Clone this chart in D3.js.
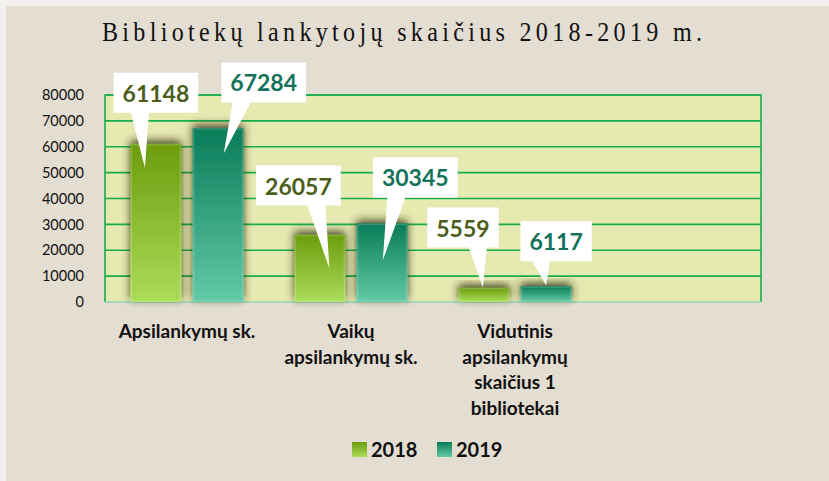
<!DOCTYPE html>
<html>
<head>
<meta charset="utf-8">
<script src="https://cdn.jsdelivr.net/npm/d3@7"></script>
<style>
  html, body { margin: 0; padding: 0; background: #f3f1ee; }
  svg { display: block; }
</style>
</head>
<body>
<svg id="chart" width="829" height="481"></svg>
<script>
// ---- data ----
const title = "Bibliotekų lankytojų skaičius 2018-2019 m.";
const categories = ["Apsilankymų sk.", "Vaikų\napsilankymų sk.", "Vidutinis\napsilankymų\nskaičius 1\nbibliotekai", ""];
const seriesNames = ["2018", "2019"];
const values2018 = [61148, 26057, 5559];
const values2019 = [67284, 30345, 6117];
const yTicks = [0, 10000, 20000, 30000, 40000, 50000, 60000, 70000, 80000];

// ---- callout placement (styling only) ----
// tipDx: tip x from bar centre; tipDy: tip depth below bar top;
// boxDx: box centre from tip; boxUp: box bottom above tip; baseDx: pointer base from box centre
const calloutLayout = [
  [ {tipDx:-11, tipDy:24, boxDx:11, boxUp:55, baseDx:-16},
    {tipDx:9.5, tipDy:34, boxDx:-31, boxUp:63, baseDx:18},
    {tipDx:-1, tipDy:0, boxDx:-20, boxUp:40, baseDx:15} ],
  [ {tipDx:5.6, tipDy:25.5, boxDx:40, boxUp:51, baseDx:-22},
    {tipDx:0.7, tipDy:37, boxDx:32.5, boxUp:63, baseDx:-19},
    {tipDx:0, tipDy:-1, boxDx:10, boxUp:24, baseDx:-15} ]
];

const svg = d3.select("#chart");
const W = 829, H = 481;

// background panel
svg.append("rect").attr("x", 6).attr("y", 6).attr("width", W - 6).attr("height", H - 6).attr("fill", "#e3ddd2");

// defs
const defs = svg.append("defs");
const g18 = defs.append("linearGradient").attr("id", "g2018").attr("x1", 0).attr("y1", 0).attr("x2", 0).attr("y2", 1);
g18.append("stop").attr("offset", "0%").attr("stop-color", "#6c9b0d");
g18.append("stop").attr("offset", "100%").attr("stop-color", "#abdd5a");
const g19 = defs.append("linearGradient").attr("id", "g2019").attr("x1", 0).attr("y1", 0).attr("x2", 0).attr("y2", 1);
g19.append("stop").attr("offset", "0%").attr("stop-color", "#087c58");
g19.append("stop").attr("offset", "100%").attr("stop-color", "#63c9a6");
const shadow = defs.append("filter").attr("id", "shadow").attr("x", "-50%").attr("y", "-50%").attr("width", "200%").attr("height", "200%");
shadow.append("feDropShadow").attr("dx", 0).attr("dy", -3).attr("stdDeviation", 4.5)
  .attr("flood-color", "#25250c").attr("flood-opacity", 0.85);
const fills = ["url(#g2018)", "url(#g2019)"];
const labelColors = ["#4b5e1c", "#13735a"];

// title (slightly condensed serif with letter spacing)
const sx = 0.86;
svg.append("text")
  .attr("transform", `scale(${sx},1)`)
  .attr("x", 102 / sx).attr("y", 41)
  .attr("textLength", 600 / sx).attr("lengthAdjust", "spacing")
  .attr("font-family", "Liberation Serif, serif")
  .attr("font-size", 28)
  .attr("fill", "#111")
  .text(title);

// scales
const plot = {left: 105, right: 761, top: 95, bottom: 302};
const x = d3.scaleBand().domain(categories).range([plot.left, plot.right]);
const bw = x.bandwidth();
const xs = d3.scaleBand().domain(seriesNames).range([bw * 0.155, bw * 0.845]).paddingInner(0.18);
const y = d3.scaleLinear().domain([0, 80000]).range([plot.bottom, plot.top]);

// plot background
svg.append("rect").attr("x", plot.left).attr("y", plot.top)
  .attr("width", plot.right - plot.left).attr("height", plot.bottom - plot.top)
  .attr("fill", "#e6e9b0");

// grid
svg.append("g").selectAll("line").data(yTicks.filter(t => t > 0)).join("line")
  .attr("x1", plot.left).attr("x2", plot.right)
  .attr("y1", d => y(d)).attr("y2", d => y(d))
  .attr("stroke", "#17ad4d").attr("stroke-width", 1.6);
// frame
svg.append("path")
  .attr("d", `M${plot.left},${plot.bottom}V${plot.top}H${plot.right}V${plot.bottom}`)
  .attr("fill", "none").attr("stroke", "#17ad4d").attr("stroke-width", 1.6);
svg.append("line").attr("x1", plot.left).attr("x2", plot.right)
  .attr("y1", plot.bottom).attr("y2", plot.bottom)
  .attr("stroke", "#8fd6b6").attr("stroke-width", 1.6);

// y axis labels
const yAxis = d3.axisLeft(y).tickValues(yTicks).tickSize(0).tickPadding(21).tickFormat(d3.format("d"));
const ya = svg.append("g").attr("transform", `translate(${plot.left},0)`).call(yAxis);
ya.select(".domain").remove();
ya.selectAll("text").attr("font-family", "Lato, sans-serif").attr("font-size", 14.5).attr("fill", "#111");

// bars
const seriesData = [values2018, values2019];
const barsG = svg.append("g");
seriesData.forEach((vals, si) => {
  barsG.selectAll(null).data(vals).join("rect")
    .attr("x", (d, i) => x(categories[i]) + xs(seriesNames[si]))
    .attr("y", d => y(d))
    .attr("width", xs.bandwidth())
    .attr("height", d => y(0) - y(d))
    .attr("fill", fills[si])
    .attr("filter", "url(#shadow)");
});
// subtle bar edge highlight
seriesData.forEach((vals, si) => {
  barsG.selectAll(null).data(vals).join("rect")
    .attr("x", (d, i) => x(categories[i]) + xs(seriesNames[si]) + 1)
    .attr("y", d => y(d) + 1)
    .attr("width", xs.bandwidth() - 2)
    .attr("height", d => Math.max(0, y(0) - y(d) - 2))
    .attr("fill", "none")
    .attr("stroke", "rgba(255,255,255,0.18)")
    .attr("stroke-width", 1.5);
});

// callouts
const calG = svg.append("g");
seriesData.forEach((vals, si) => {
  vals.forEach((v, i) => {
    const L = calloutLayout[si][i];
    const bx = x(categories[i]) + xs(seriesNames[si]) + xs.bandwidth() / 2;
    const tipX = bx + L.tipDx, tipY = y(v) + L.tipDy;
    const cx = tipX + L.boxDx, boxBottom = tipY - L.boxUp, boxH = 40;
    const g = calG.append("g");
    const t = g.append("text")
      .attr("font-family", "Lato, sans-serif").attr("font-weight", "bold")
      .attr("font-size", 23).attr("fill", labelColors[si])
      .attr("text-anchor", "middle")
      .attr("x", cx).attr("y", boxBottom - boxH + 29)
      .text(String(v));
    const tw = t.node().getComputedTextLength();
    const boxW = tw + 18;
    const baseC = cx + L.baseDx;
    g.insert("path", "text")
      .attr("d", `M${cx - boxW / 2},${boxBottom - boxH}H${cx + boxW / 2}V${boxBottom}H${baseC + 9}L${tipX},${tipY}L${baseC - 9},${boxBottom}H${cx - boxW / 2}Z`)
      .attr("fill", "#ffffff");
  });
});

// category labels
categories.forEach(c => {
  if (!c) return;
  const lines = c.split("\n");
  const t = svg.append("text")
    .attr("font-family", "Lato, sans-serif").attr("font-weight", "bold")
    .attr("font-size", 19).attr("fill", "#111").attr("text-anchor", "middle");
  lines.forEach((ln, k) => {
    t.append("tspan").attr("x", x(c) + bw / 2).attr("y", 338 + k * 25.7).text(ln);
  });
});

// legend
const legX = [352, 437];
seriesNames.forEach((s, si) => {
  svg.append("rect").attr("x", legX[si]).attr("y", 442).attr("width", 15).attr("height", 15)
    .attr("fill", fills[si]);
  svg.append("text").attr("x", legX[si] + 19).attr("y", 457)
    .attr("font-family", "Lato, sans-serif").attr("font-weight", "bold")
    .attr("font-size", 20).attr("fill", "#111").text(s);
});
</script>
</body>
</html>
